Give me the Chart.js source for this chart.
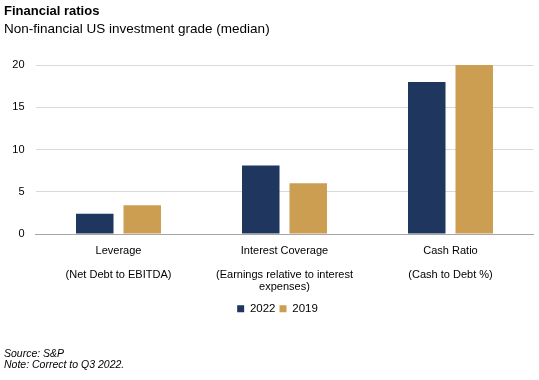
<!DOCTYPE html>
<html>
<head>
<meta charset="utf-8">
<script src="https://cdn.jsdelivr.net/npm/chart.js@4/dist/chart.umd.min.js"></script>
<style>
  html, body { margin: 0; padding: 0; background: #ffffff; }
  #wrap { position: relative; width: 539px; height: 380px; overflow: hidden; font-family: "Liberation Sans", Arial, sans-serif; color: #000; }
  canvas { position: absolute; left: 0; top: 0; }
  .txt { position: absolute; left: 4px; white-space: nowrap; line-height: 1; }
  #title { top: 4px; font-size: 13px; font-weight: bold; }
  #subtitle { top: 22px; font-size: 13.5px; }
  #source { top: 348px; font-size: 10.5px; font-style: italic; }
  #note { top: 359px; font-size: 10.5px; font-style: italic; }
</style>
</head>
<body>
<div id="wrap">
  <canvas id="c" width="539" height="380"></canvas>
  <div class="txt" id="title">Financial ratios</div>
  <div class="txt" id="subtitle">Non-financial US investment grade (median)</div>
  <div class="txt" id="source">Source: S&amp;P</div>
  <div class="txt" id="note">Note: Correct to Q3 2022.</div>
</div>
<script>
const categories = ["Leverage", "Interest Coverage", "Cash Ratio"];
const subLabels = [["(Net Debt to EBITDA)"], ["(Earnings relative to interest", "expenses)"], ["(Cash to Debt %)"]];
const seriesNames = ["2022", "2019"];
const values2022 = [2.4, 8.1, 18.0];
const values2019 = [3.4, 6.0, 20.0];
const yTicks = [0, 5, 10, 15, 20];

const labels = categories.map((c, i) => [c, ""].concat(subLabels[i]));

const legendShift = {
  id: "legendShift",
  afterLayout(chart) {
    const l = chart.legend;
    if (l) { l.left += 5; l.right += 5; }
  }
};

new Chart(document.getElementById("c"), {
  type: "bar",
  data: {
    labels: labels,
    datasets: [
      { label: seriesNames[0], data: values2022, backgroundColor: "#1f365e", categoryPercentage: 0.572, barPercentage: 0.79 },
      { label: seriesNames[1], data: values2019, backgroundColor: "#cc9e52", categoryPercentage: 0.572, barPercentage: 0.79 }
    ]
  },
  plugins: [legendShift],
  options: {
    responsive: false,
    devicePixelRatio: 1,
    animation: false,
    layout: { padding: { left: 11.5, right: 5.5, top: 65, bottom: 55.5 } },
    plugins: {
      title: { display: false },
      tooltip: { enabled: false },
      legend: {
        position: "bottom",
        labels: {
          boxWidth: 7, boxHeight: 7, padding: 4,
          color: "#000",
          font: { family: "'Liberation Sans', Arial, sans-serif", size: 11.5 }
        }
      }
    },
    scales: {
      x: {
        afterFit: (s) => { s.height = 65; },
        grid: { display: false, drawTicks: false },
        border: { display: true, color: "#a6a6a6", width: 1 },
        ticks: {
          color: "#000", padding: 11, maxRotation: 0, autoSkip: false,
          font: { family: "'Liberation Sans', Arial, sans-serif", size: 11, lineHeight: "12px" }
        }
      },
      y: {
        min: 0, max: 20,
        afterBuildTicks: (s) => { s.ticks = yTicks.map(v => ({ value: v })); },
        afterFit: (s) => { s.width = 24; },
        grid: { color: "#d9d9d9", drawTicks: false },
        border: { display: false },
        ticks: {
          color: "#000", padding: 11,
          font: { family: "'Liberation Sans', Arial, sans-serif", size: 11 }
        }
      }
    }
  }
});
</script>
</body>
</html>
